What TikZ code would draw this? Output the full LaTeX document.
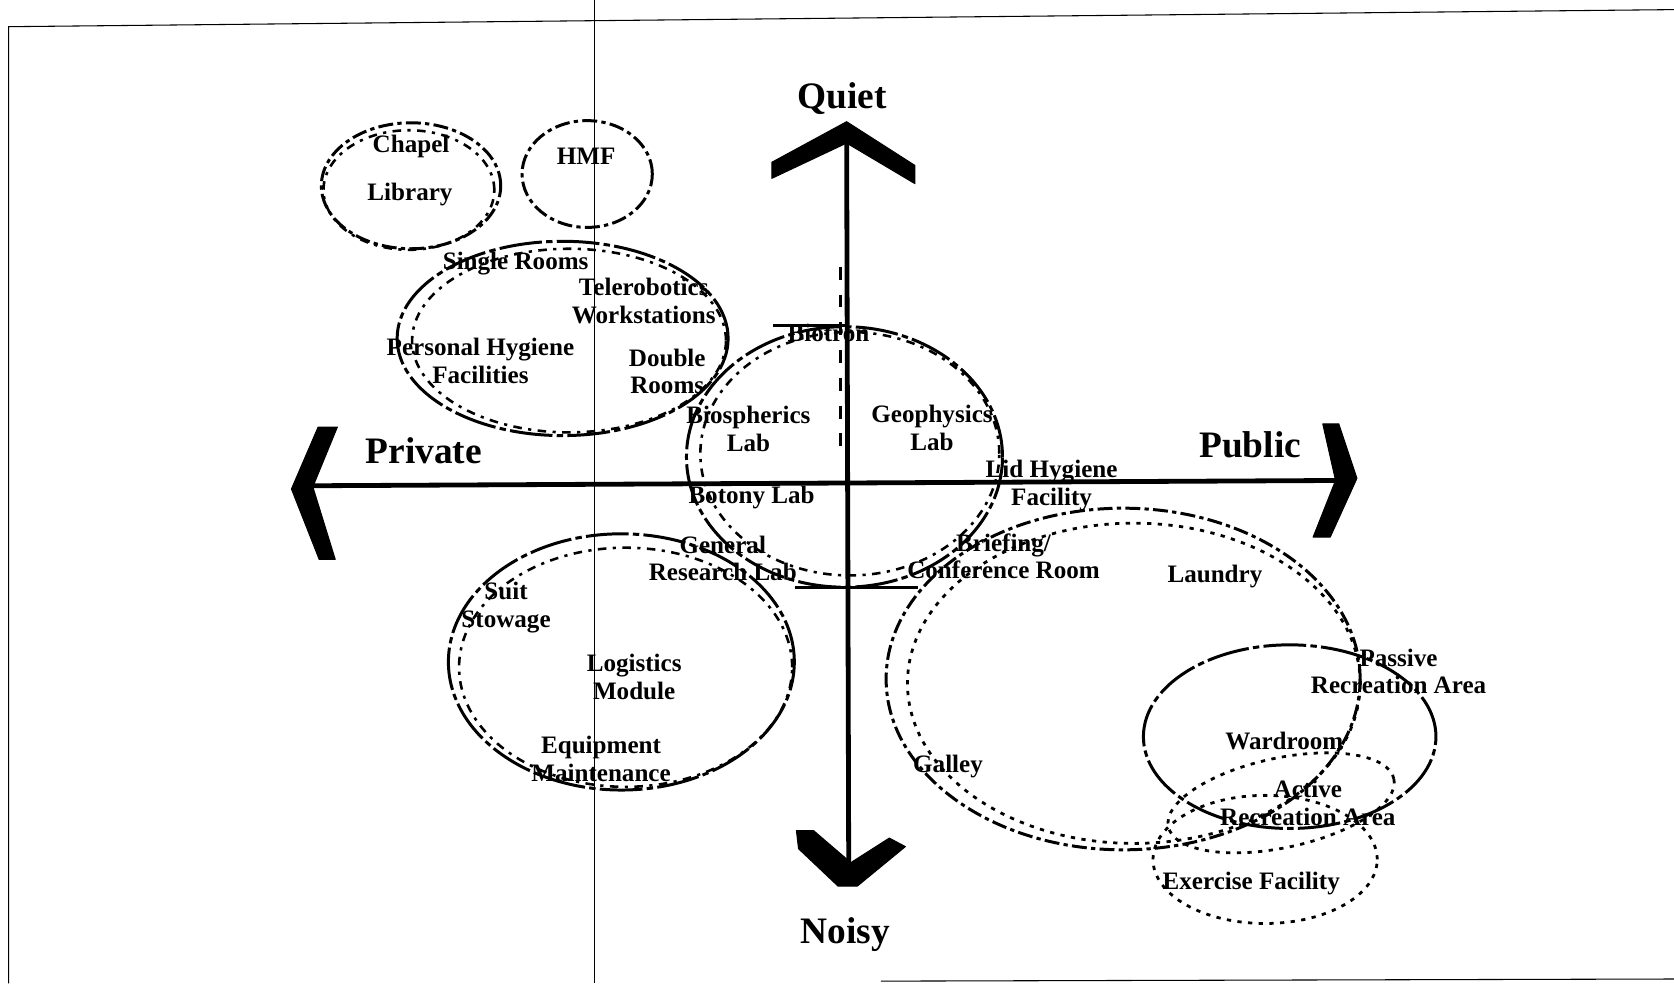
\documentclass[tikz,border=0pt]{standalone}
\usepackage{fontspec}
\setmainfont{Liberation Serif}
\begin{document}
\begin{tikzpicture}[x=1pt,y=-1pt,
  lbl/.style={font=\fontsize{23.5}{26}\selectfont\bfseries, align=center, inner sep=0pt},
  axlbl/.style={font=\fontsize{35}{40}\selectfont\bfseries, inner sep=0pt},
  frameline/.style={line width=1pt, black},
  axisline/.style={line width=4.5pt, black},
  chev/.style={fill=black, draw=black, line width=1pt, line join=round},
  zoneA/.style={line width=2.8pt, dash pattern=on 14pt off 4pt on 4pt off 4pt},
  zoneB/.style={line width=2.6pt, dash pattern=on 4pt off 6pt},
  zoneS/.style={line width=2.8pt, dash pattern=on 40pt off 4pt on 6pt off 4pt},
  zoneD/.style={line width=2.4pt, dash pattern=on 8pt off 6pt on 3pt off 6pt}
]
\useasboundingbox (0,0) rectangle (1568,921);
% scan frame
\coordinate (f1) at (8,25);
\coordinate (f2) at (1568,9);
\coordinate (f3) at (8,921);
\coordinate (v1) at (557,0);
\coordinate (v2) at (557,921);
\coordinate (b1) at (825,919);
\coordinate (b2) at (1568,917);
\draw[frameline] (f3) -- (f1) -- (f2);
\draw[line width=0.8pt] (v1) -- (v2);
\draw[frameline] (b1) -- (b2);

% zones
\draw[zoneA] (385,174) ellipse [x radius=84pt, y radius=59pt];
\draw[zoneD] (383,178) ellipse [x radius=80pt, y radius=56pt];
\draw[zoneA] (550,163) ellipse [x radius=61pt, y radius=50pt];
\draw[zoneS] (527,317) ellipse [x radius=155pt, y radius=91pt];
\draw[zoneD] (533,319) ellipse [x radius=147pt, y radius=86pt];
\draw[zoneS] (791,428) ellipse [x radius=148pt, y radius=122pt];
\draw[zoneD] (796,425) ellipse [x radius=140pt, y radius=114pt];
\draw[zoneS] (582,620) ellipse [x radius=162pt, y radius=120pt];
\draw[zoneD] (586,625) ellipse [x radius=156pt, y radius=112pt];
\draw[zoneA] (1052,636) ellipse [x radius=222pt, y radius=160pt];
\draw[zoneB] (1062,640) ellipse [x radius=212pt, y radius=150pt];
\draw[zoneS] (1208,690) ellipse [x radius=137pt, y radius=86pt];
\draw[zoneB, rotate around={12:(1200,752)}] (1200,752) ellipse [x radius=108pt, y radius=42pt];
\draw[zoneB] (1185,805) ellipse [x radius=105pt, y radius=60pt];
\coordinate (bt1) at (724,305);
\coordinate (bt2) at (792,305);
\draw[line width=3pt] (bt1) -- (bt2);
\coordinate (bb1) at (745,550);
\coordinate (bb2) at (860,550);
\draw[line width=3pt] (bb1) -- (bb2);
\coordinate (ad1) at (787,250);
\coordinate (ad2) at (787,430);
\draw[line width=3pt, dash pattern=on 12pt off 14pt] (ad1) -- (ad2);

% axes
\coordinate (L) at (290,455);
\coordinate (R) at (1262,450);
\coordinate (T) at (793,122);
\coordinate (B) at (795,822);
\draw[axisline] (L) -- (R);
\draw[axisline] (T) -- (B);
\draw[chev] (298,400) -- (316,400) -- (293,456) -- (314,524) -- (299,524) -- (273,458) -- cycle;
\draw[chev] (1239,397) -- (1254,397) -- (1271,448) -- (1246,503) -- (1230,503) -- (1251,450) -- cycle;
\draw[chev] (723,152) -- (793,114) -- (857,155) -- (857,172) -- (793,134) -- (723,167) -- cycle;
\draw[chev] (746,778) -- (762,778) -- (797,808) -- (833,785) -- (848,793) -- (803,830) -- (785,830) -- (748,795) -- cycle;

% axis labels
\node[axlbl] (quiet) at (789,92) {Quiet};
\node[axlbl] (noisy) at (792,875) {Noisy};
\node[axlbl] (private) at (397,422) {Private};
\node[axlbl] (public) at (1171,417) {Public};

% zone labels
\node[lbl] (chapel) at (385,137) {Chapel};
\node[lbl] (library) at (384,182) {Library};
\node[lbl] (hmf) at (549,146) {HMF};
\node[lbl] (single) at (483,247) {Single Rooms};
\node[lbl] (telero) at (603,282) {Telerobotics\\Workstations};
\node[lbl] (hyg) at (450,338) {Personal Hygiene\\Facilities};
\node[lbl] (double) at (625,348) {Double\\Rooms};
\node[lbl] (biotron) at (776,312) {Biotron};
\node[lbl] (biosph) at (701,402) {Biospherics\\Lab};
\node[lbl] (geoph) at (873,401) {Geophysics\\Lab};
\node[lbl] (lid) at (985,455) {Lid Hygiene\\Facility};
\node[lbl] (botony) at (704,466) {Botony Lab};
\node[lbl] (genres) at (677,523) {General\\Research Lab};
\node[lbl] (brief) at (940,521) {Briefing/\\Conference Room};
\node[lbl] (laundry) at (1138,540) {Laundry};
\node[lbl] (suit) at (474,569) {Suit\\Stowage};
\node[lbl] (logist) at (594,634) {Logistics\\Module};
\node[lbl] (equip) at (563,711) {Equipment\\Maintenance};
\node[lbl] (galley) at (888,718) {Galley};
\node[lbl] (passive) at (1310,629) {Passive\\Recreation Area};
\node[lbl] (ward) at (1203,694) {Wardroom};
\node[lbl] (active) at (1225,752) {Active\\Recreation Area};
\node[lbl] (exer) at (1172,828) {Exercise Facility};
\end{tikzpicture}
\end{document}
